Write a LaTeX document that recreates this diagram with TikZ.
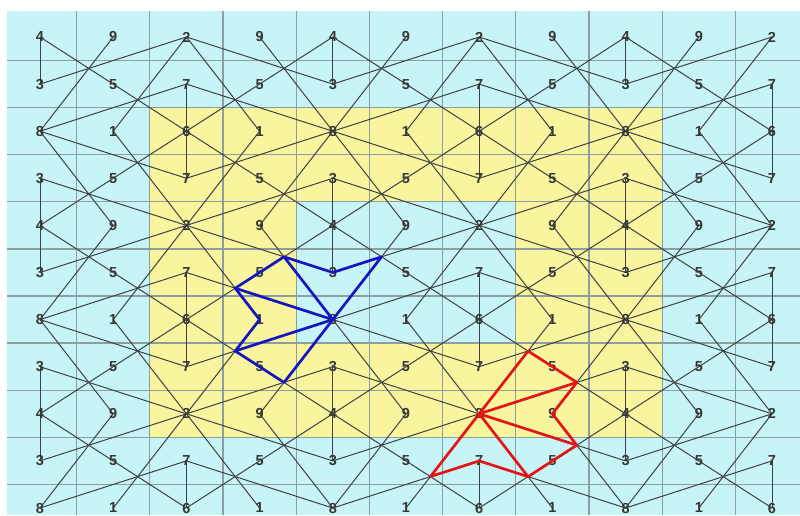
\documentclass[tikz,border=0pt]{standalone}
\usepackage{fontspec}
\setmainfont{Liberation Sans}
\definecolor{bgcyan}{RGB}{198,244,247}
\definecolor{bgyellow}{RGB}{249,244,158}
\definecolor{gridc}{RGB}{140,158,160}
\definecolor{linkc}{RGB}{62,66,66}
\definecolor{numc}{RGB}{55,55,55}
\definecolor{bluec}{RGB}{22,22,190}
\definecolor{redc}{RGB}{226,22,22}
\pgfdeclarelayer{bg}
\pgfdeclarelayer{lk}
\pgfsetlayers{bg,lk,main}
\tikzset{
  num/.style={inner sep=0pt, text=numc, font=\fontsize{14.5}{14.5}\selectfont\bfseries},
  link/.style={draw=linkc, line width=1.0pt},
  gridline/.style={draw=gridc, line width=1.3pt},
  bluefig/.style={draw=bluec, line width=2.7pt, line join=round, line cap=round},
  redfig/.style={draw=redc, line width=2.7pt, line join=round, line cap=round},
}
\begin{document}
\begin{tikzpicture}[x=1pt,y=-1pt]
\useasboundingbox (0,0) rectangle (800,515);
% number nodes
\foreach \row [count=\ri] in {
  {4,9,2,9,4,9,2,9,4,9,2},
  {3,5,7,5,3,5,7,5,3,5,7},
  {8,1,6,1,8,1,6,1,8,1,6},
  {3,5,7,5,3,5,7,5,3,5,7},
  {4,9,2,9,4,9,2,9,4,9,2},
  {3,5,7,5,3,5,7,5,3,5,7},
  {8,1,6,1,8,1,6,1,8,1,6},
  {3,5,7,5,3,5,7,5,3,5,7},
  {4,9,2,9,4,9,2,9,4,9,2},
  {3,5,7,5,3,5,7,5,3,5,7},
  {8,1,6,1,8,1,6,1,8,1,6}}{
  \foreach \v [count=\ci] in \row {
    \expandafter\xdef\csname val\ri x\ci\endcsname{\v}
    \node[num] (p\ri c\ci) at ({40+73.2*(\ci-1)},{37+47.1*(\ri-1)}) {\v};
  }
}
% background and grid
\begin{pgfonlayer}{bg}
\fill[bgcyan] (7,11) rectangle (800,515);
\fill[bgyellow, even odd rule] (149.8,107.6) rectangle (662.2,437)
     (296.2,201.8) rectangle (515.8,343);
\foreach \k in {0,...,9}{
  \draw[gridline] ({76.6+73.2*\k},11) -- ({76.6+73.2*\k},515);
  \draw[gridline] (7,{60.5+47.1*\k}) -- (800,{60.5+47.1*\k});
}
\end{pgfonlayer}
% connectors between consecutive numbers
\begin{pgfonlayer}{lk}
\foreach \ri in {1,...,11}{
 \foreach \ci in {1,...,11}{
  \foreach \dr/\dc in {1/0,-1/0,1/1,1/-1,-1/1,-1/-1,2/1,2/-1,-2/1,-2/-1,1/2,1/-2,-1/2,-1/-2}{
   \edef\rrr{\the\numexpr\ri+\dr\relax}
   \edef\ccc{\the\numexpr\ci+\dc\relax}
   \ifnum\rrr>0 \ifnum\rrr<12 \ifnum\ccc>0 \ifnum\ccc<12
     \ifnum\numexpr\csname val\ri x\ci\endcsname+1\relax=\csname val\rrr x\ccc\endcsname\relax
       \draw[link] (p\ri c\ci.center) -- (p\rrr c\ccc.center);
     \fi
   \fi\fi\fi\fi
  }
 }
}
\end{pgfonlayer}
% blue figure
\coordinate (bA) at (intersection cs: first line={(p5c5.center)--(p6c4.center)}, second line={(p5c3.center)--(p6c5.center)});
\coordinate (bD) at (intersection cs: first line={(p6c5.center)--(p5c7.center)}, second line={(p7c5.center)--(p5c6.center)});
\coordinate (bE) at (intersection cs: first line={(p6c4.center)--(p7c3.center)}, second line={(p6c3.center)--(p7c5.center)});
\coordinate (bG) at (intersection cs: first line={(p7c4.center)--(p9c3.center)}, second line={(p8c3.center)--(p7c5.center)});
\coordinate (bH) at (intersection cs: first line={(p8c4.center)--(p9c5.center)}, second line={(p9c4.center)--(p7c5.center)});
\draw[bluefig] (bE) -- (bA) -- (p6c5.center) -- (bD) -- (p7c5.center) -- (bH) -- (bG) -- (p7c4.center) -- cycle;
\draw[bluefig] (bA) -- (p7c5.center) -- (bE) (bG) -- (p7c5.center);
% red figure
\coordinate (rA) at (intersection cs: first line={(p9c7.center)--(p7c8.center)}, second line={(p7c7.center)--(p8c8.center)});
\coordinate (rB) at (intersection cs: first line={(p8c8.center)--(p9c9.center)}, second line={(p9c7.center)--(p8c9.center)});
\coordinate (rD) at (intersection cs: first line={(p9c8.center)--(p11c9.center)}, second line={(p9c7.center)--(p10c9.center)});
\coordinate (rE) at (intersection cs: first line={(p9c9.center)--(p10c8.center)}, second line={(p9c7.center)--(p11c8.center)});
\coordinate (rG) at (intersection cs: first line={(p10c7.center)--(p11c5.center)}, second line={(p9c7.center)--(p11c6.center)});
\draw[redfig] (p9c7.center) -- (rA) -- (rB) -- (p9c8.center) -- (rD) -- (rE) -- (p10c7.center) -- (rG) -- cycle;
\draw[redfig] (rB) -- (p9c7.center) -- (rD) (p9c7.center) -- (rE);
\end{tikzpicture}
\end{document}
